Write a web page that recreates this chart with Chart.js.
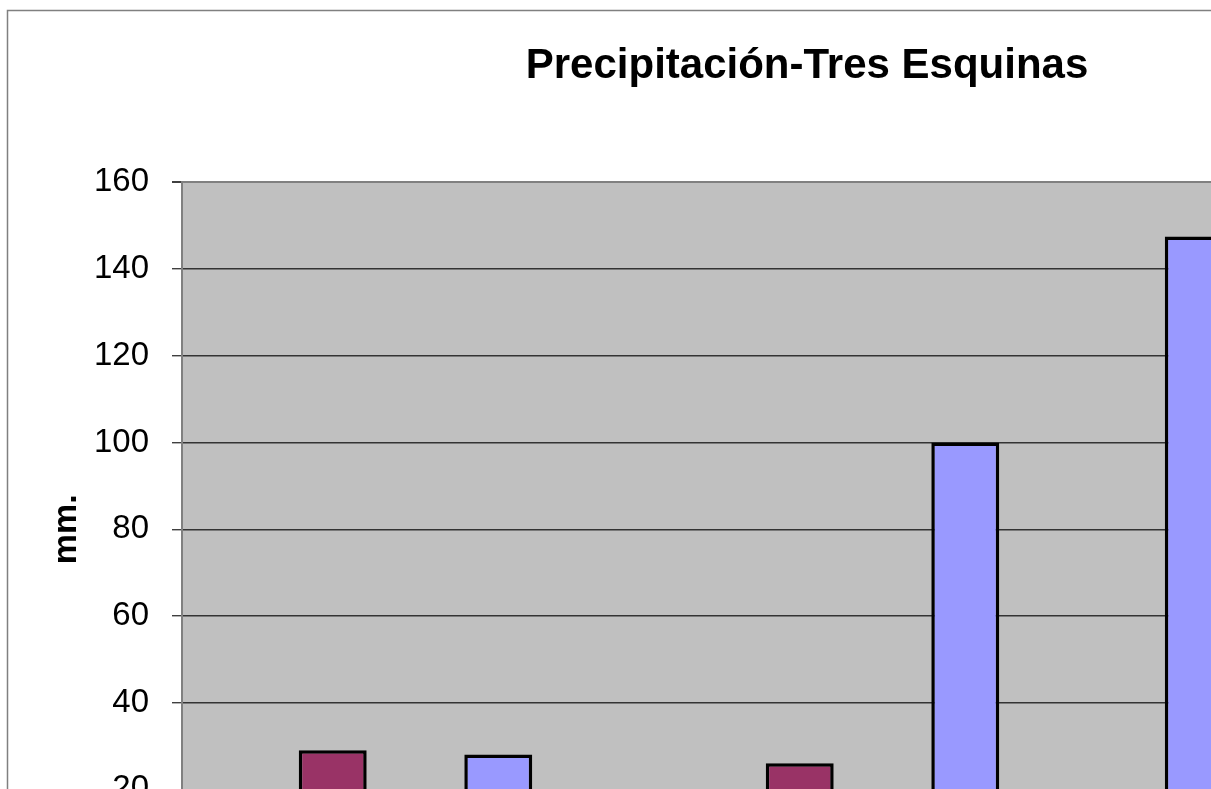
<!DOCTYPE html>
<html>
<head>
<meta charset="utf-8">
<script src="https://cdn.jsdelivr.net/npm/chart.js@4"></script>
<style>
  html, body { margin: 0; padding: 0; background: #fff; overflow: hidden; }
  #wrap { position: absolute; left: 0; top: 0; }
</style>
</head>
<body>
<div id="wrap"><canvas id="chartBoxCanvas" width="1603" height="960"></canvas></div>
<script>
'use strict';

// categories (x labels fall below the visible area)
const categories = ['Ene', 'Feb', 'Mar', 'Abr', 'May', 'Jun'];
// series, null = no bar visible
const serieAzul   = [null, 28, null, 100, 147.5, null];
const serieGranate = [29, null, 26, null, null, null];
const yTicks = [0, 20, 40, 60, 80, 100, 120, 140, 160];

const fontFam = '"Liberation Sans", Arial, sans-serif';

// grey plot background + outer chart frame
const plotBg = {
    id: 'plotBg',
    beforeDraw(chart) {
        const {ctx, chartArea} = chart;
        ctx.save();
        ctx.fillStyle = '#C0C0C0';
        ctx.fillRect(chartArea.left, chartArea.top, chartArea.right - chartArea.left, chartArea.bottom - chartArea.top);
        ctx.strokeStyle = '#808080';
        ctx.lineWidth = 1.5;
        ctx.strokeRect(7.5, 10.5, chart.width - 15, chart.height - 20);
        ctx.restore();
    }
};

const ctx = document.getElementById('chartBoxCanvas').getContext('2d');
window.myChart = new Chart(ctx, {
    type: 'bar',
    data: {
        labels: categories,
        datasets: [{
            label: 'Serie 1',
            data: serieAzul,
            backgroundColor: '#9999FF',
            borderColor: '#000000',
            borderWidth: 3.5
        }, {
            label: 'Serie 2',
            data: serieGranate,
            backgroundColor: '#993366',
            borderColor: '#000000',
            borderWidth: 3.5
        }]
    },
    options: {
        responsive: false,
        animation: false,
        layout: { padding: { left: 31, right: 20, top: 0, bottom: 14 } },
        datasets: {
            bar: { categoryPercentage: 0.582, barPercentage: 1.0 }
        },
        plugins: {
            legend: { display: false },
            tooltip: { enabled: false },
            title: {
                display: true,
                text: 'Precipitación-Tres Esquinas',
                color: '#000',
                font: { family: fontFam, size: 42, weight: 'bold' },
                padding: { top: 41, bottom: 91 }
            }
        },
        scales: {
            x: {
                grid: { display: false },
                border: { display: true, color: '#808080', width: 2 },
                ticks: { color: '#000', font: { family: fontFam, size: 30 } },
                afterFit(scale) { scale.height = 70; }
            },
            y: {
                min: 0,
                max: 160,
                afterBuildTicks(scale) { scale.ticks = yTicks.map(v => ({ value: v })); },
                afterFit(scale) { scale.width = 151; },
                ticks: {
                    color: '#000',
                    padding: 23,
                    font: { family: fontFam, size: 33 }
                },
                grid: {
                    color: c => (c.tick && c.tick.value === 160) ? '#808080' : '#333333',
                    lineWidth: c => (c.tick && c.tick.value === 160) ? 2 : 1.4,
                    tickLength: 10,
                    tickColor: '#404040'
                },
                border: { display: true, color: '#808080', width: 2 },
                title: {
                    display: true,
                    text: 'mm.',
                    color: '#000',
                    font: { family: fontFam, size: 34, weight: 'bold' },
                    padding: { top: 15, bottom: 0 }
                }
            }
        }
    },
    plugins: [plotBg]
});
</script>
</body>
</html>
